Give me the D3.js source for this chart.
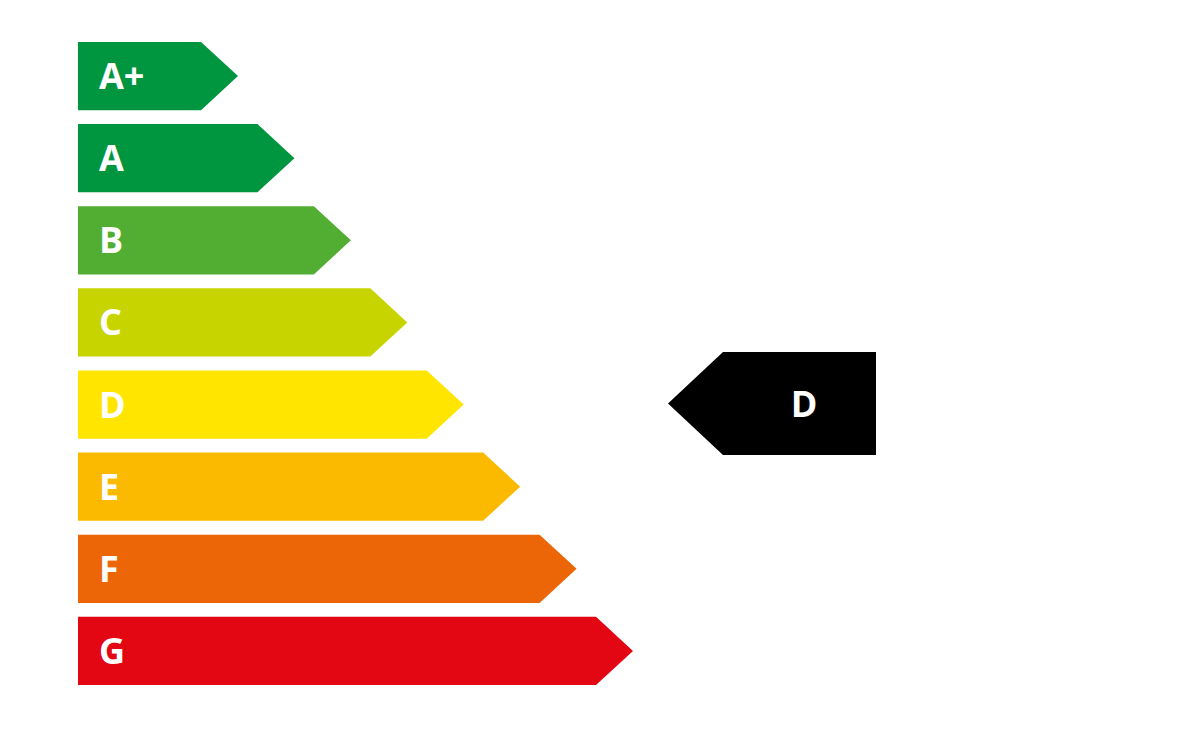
<!DOCTYPE html>
<html><head><meta charset="utf-8">
<script src="https://cdn.jsdelivr.net/npm/d3@7"></script>
<style>body{margin:0;background:#fff}</style>
</head><body>
<svg id="c" width="1200" height="734"></svg>
<script>
const categories = ["A+","A","B","C","D","E","F","G"];
const levels = [1,2,3,4,5,6,7,8];
const colors = ["#009640","#009640","#52ae32","#c8d400","#ffe500","#fbba00","#ec6608","#e30613"];
const rating = "D";

const svg = d3.select("#c");
const y = d3.scaleBand().domain(categories).range([42,685]).paddingInner(0.17).paddingOuter(0);
const x = d3.scaleLinear().domain([1,8]).range([201,596]);
const x0 = 78, tip = 37;

const g = svg.selectAll("g.bar").data(categories).join("g").attr("class","bar");
g.append("path")
  .attr("d",(d,i)=>{
    const t=y(d), h=y.bandwidth(), e=x(levels[i]);
    return `M${x0},${t}H${e}L${e+tip},${t+h/2}L${e},${t+h}H${x0}Z`;
  })
  .attr("fill",(d,i)=>colors[i]);
g.append("text")
  .attr("x",99).attr("y",d=>y(d)+y.bandwidth()/2)
  .attr("dy","0.36em")
  .attr("fill","#fff").attr("font-family","Open Sans, DejaVu Sans, sans-serif")
  .attr("font-weight","bold").attr("font-size",36)
  .text(d=>d);

// indicator
const cy = y(rating)+y.bandwidth()/2 - 1;
const ih = 103, itipX = 668, ibody = 723, iend = 876;
svg.append("path")
  .attr("d",`M${itipX},${cy}L${ibody},${cy-ih/2}H${iend}V${cy+ih/2}H${ibody}Z`)
  .attr("fill","#000");
svg.append("text")
  .attr("x",804).attr("y",cy).attr("dy","0.36em").attr("text-anchor","middle")
  .attr("fill","#fff").attr("font-family","Open Sans, DejaVu Sans, sans-serif")
  .attr("font-weight","bold").attr("font-size",36)
  .text(rating);
</script>
</body></html>
